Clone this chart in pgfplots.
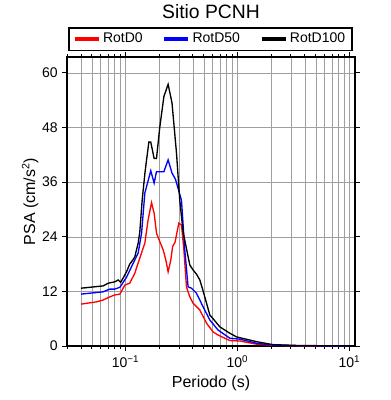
\documentclass[border=0pt]{standalone}
\usepackage{pgfplots}
\pgfplotsset{compat=1.18}
\usepackage{fontspec}
\setmainfont{Liberation Sans}
\begin{document}
\begin{tikzpicture}
\path[use as bounding box] (-50.25pt,-40.5pt) rectangle (242.25pt,259.5pt);
\begin{axis}[
  at={(0,0)}, anchor=south west,
  scale only axis, width=216pt, height=216.75pt,
  xmode=log, xmin=0.03, xmax=11.2, ymin=0, ymax=63.5,
  xtick={0.1,1,10},
  xticklabels={10\textsuperscript{−1},10\textsuperscript{0},10\textsuperscript{1}},
  minor xtick={0.03,0.04,0.05,0.06,0.07,0.08,0.09,0.2,0.3,0.4,0.5,0.6,0.7,0.8,0.9,2,3,4,5,6,7,8,9},
  ytick={0,12,24,36,48,60},
  /pgf/number format/assume math mode=true,
  grid=both,
  major grid style={gray!75, line width=0.4pt},
  minor grid style={gray!75, line width=0.4pt},
  tick align=outside,
  major tick length=3.5pt, minor tick length=2pt,
  every tick/.style={black, line width=0.7pt},
  axis line style={line width=1.1pt},
  ticklabel style={font=\fontsize{10.5}{12}\selectfont},
  label style={font=\fontsize{12}{14}\selectfont},
  xlabel={Periodo (s)},
  ylabel={PSA (cm/s\textsuperscript{2})},
  xlabel style={at={(axis description cs:0.5,-0.128)}, anchor=center},
  ylabel style={at={(axis description cs:-0.128,0.5)}, anchor=center},
  legend columns=3,
  legend style={at={(0.4982,1)}, anchor=south, yshift=4.5pt,
    draw=black, line width=1.1pt, font=\fontsize{10.5}{12}\selectfont,
    inner xsep=3pt, inner ysep=2pt,
    /tikz/every even column/.append style={column sep=13pt}},
  legend image code/.code={\draw[#1, line width=2.4pt] (0pt,0pt) -- (18pt,0pt);},
]
\addplot[red, line width=1.0pt] coordinates {
(0.04,9.2)(0.055,9.7)(0.063,10.1)(0.0724,10.8)(0.08,11.2)(0.089,11.4)(0.0986,13.4)(0.109,13.8)(0.121,16)(0.134,19.3)(0.1487,22.6)(0.159,27.7)(0.1707,31.5)(0.18,29.2)(0.189,24.8)(0.2025,22.9)(0.217,21.1)(0.229,18.9)(0.24,16.3)(0.2538,18.9)(0.263,21.8)(0.2773,22.9)(0.299,27)(0.316,26.6)(0.332,21.1)(0.35,13)(0.375,10.8)(0.401,9.4)(0.461,7.9)(0.529,5.0)(0.605,3.1)(0.671,2.4)(0.854,1.2)(1.05,1.1)(1.48,0.4)(2.07,0.15)(3.6,0.03)(10,0.01)
};
\addlegendentry{RotD0}
\addplot[blue, line width=1.0pt] coordinates {
(0.04,11.4)(0.063,11.9)(0.0724,12.5)(0.08,12.5)(0.089,12.9)(0.102,15.1)(0.117,18.2)(0.1296,20.4)(0.139,24.8)(0.1487,33.6)(0.168,38.5)(0.18,35.8)(0.189,38.3)(0.22,38.3)(0.24,40.9)(0.26,38)(0.2795,36.6)(0.316,32)(0.338,21.1)(0.362,13)(0.388,12.7)(0.43,11.6)(0.493,8.6)(0.566,5.7)(0.671,3.5)(0.854,1.7)(1.05,1.5)(1.48,0.6)(2.07,0.2)(3.6,0.05)(10,0.01)
};
\addlegendentry{RotD50}
\addplot[black, line width=1.0pt] coordinates {
(0.04,12.7)(0.063,13.2)(0.07,13.8)(0.08,14.1)(0.0859,14.5)(0.0905,14.0)(0.0955,15.0)(0.102,16.3)(0.109,18.0)(0.117,19.0)(0.121,19.6)(0.1296,22.6)(0.134,25)(0.1407,32)(0.149,38)(0.1614,44.8)(0.168,44.8)(0.18,41.2)(0.189,41.2)(0.202,48)(0.22,54.8)(0.24,57.5)(0.26,53.4)(0.2853,42.3)(0.305,32)(0.327,25)(0.362,19.6)(0.375,17.8)(0.401,16.7)(0.43,15.8)(0.461,14.5)(0.49,12.3)(0.529,9.4)(0.566,6.8)(0.605,6.0)(0.695,4.2)(0.854,2.8)(0.98,2.0)(1.48,0.95)(2.07,0.3)(3.6,0.1)(10,0.02)
};
\addlegendentry{RotD100}
\end{axis}
\node[font=\fontsize{14.5}{16}\selectfont] at (108pt,250.5pt) {Sitio PCNH};
\end{tikzpicture}
\end{document}
